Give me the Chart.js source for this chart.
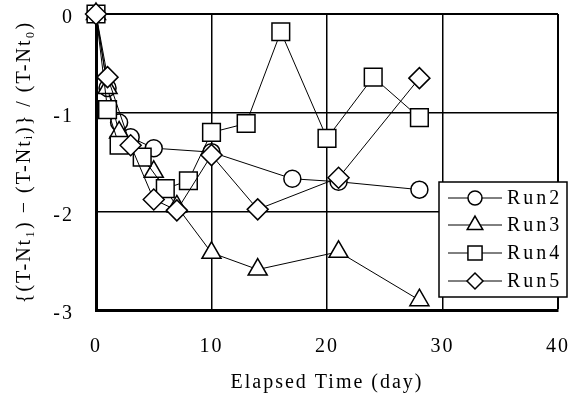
<!DOCTYPE html>
<html>
<head>
<meta charset="utf-8">
<script src="https://cdn.jsdelivr.net/npm/chart.js@4.4.0/dist/chart.umd.min.js"></script>
<style>
html, body { margin: 0; padding: 0; background: #fff; }
</style>
</head>
<body>
<canvas id="grafik" width="568" height="398"></canvas>
<script>
// data (day, ratio)
var hariRun2 = [0, 1, 2, 3, 5, 10, 17, 21, 28];
var nilaiRun2 = [0, -0.75, -1.1, -1.25, -1.36, -1.4, -1.67, -1.7, -1.78];

var hariRun3 = [0, 1, 2, 3, 5, 7, 10, 14, 21, 28];
var nilaiRun3 = [0, -0.75, -1.2, -1.35, -1.6, -1.95, -2.42, -2.59, -2.41, -2.9];

var hariRun4 = [0, 1, 2, 4, 6, 8, 10, 13, 16, 20, 24, 28];
var nilaiRun4 = [0, -0.97, -1.33, -1.45, -1.77, -1.69, -1.2, -1.11, -0.18, -1.26, -0.64, -1.05];

var hariRun5 = [0, 1, 3, 5, 7, 10, 14, 21, 28];
var nilaiRun5 = [0, -0.64, -1.33, -1.88, -1.99, -1.43, -1.98, -1.66, -0.65];

var labelRun = ['Run2', 'Run3', 'Run4', 'Run5'];
var tickX = [0, 10, 20, 30, 40];
var tickY = [0, -1, -2, -3];

var hurufSerif = "'Liberation Serif', 'DejaVu Serif', serif";

function pasangan(xs, ys) {
	var hasil = [];
	for (var i = 0; i < xs.length; i++) {
		hasil.push({x: xs[i], y: ys[i]});
	}
	return hasil;
}

function seri(label, xs, ys, bentuk, radius, urutan) {
	return {
		label: label,
		data: pasangan(xs, ys),
		showLine: true,
		clip: false,
		borderColor: '#000',
		borderWidth: 1,
		backgroundColor: '#fff',
		pointStyle: bentuk,
		pointRadius: radius,
		pointBorderWidth: 1.5,
		pointBorderColor: '#000',
		pointBackgroundColor: '#fff',
		order: urutan
	};
}

// no extra padding from the scales, layout.padding decides the box
function tanpaPadding(skala) {
	skala.paddingTop = 0;
	skala.paddingBottom = 0;
	skala.paddingLeft = 0;
	skala.paddingRight = 0;
}

// legend drawn by hand, it sits half outside the plot box
var legendaKotak = {
	id: 'legendaKotak',
	afterDraw: function(chart) {
		var ctx = chart.ctx;
		var kiri = 439, atas = 182, lebar = 128, tinggi = 115;
		ctx.save();
		ctx.fillStyle = '#fff';
		ctx.fillRect(kiri, atas, lebar, tinggi);
		ctx.strokeStyle = '#000';
		ctx.lineWidth = 1.5;
		ctx.strokeRect(kiri, atas, lebar, tinggi);
		var barisY = [198, 225, 253, 281];
		var ukuran = [7, 9, 10, 8];
		chart.data.datasets.forEach(function(ds, i) {
			var y = barisY[i];
			ctx.strokeStyle = '#000';
			ctx.lineWidth = 1;
			ctx.beginPath();
			ctx.moveTo(448, y);
			ctx.lineTo(502, y);
			ctx.stroke();
			ctx.fillStyle = '#fff';
			ctx.lineWidth = 1.5;
			Chart.helpers.drawPoint(ctx, {pointStyle: ds.pointStyle, radius: ukuran[i], rotation: 0, borderWidth: 1.5}, 475, y);
			ctx.fillStyle = '#000';
			ctx.font = '20px ' + hurufSerif;
			ctx.textBaseline = 'middle';
			ctx.textAlign = 'left';
			ctx.letterSpacing = '3px';
			ctx.fillText(ds.label, 507, y + 1);
		});
		ctx.restore();
	}
};

var spasiHuruf = {
	id: 'spasiHuruf',
	beforeDraw: function(chart) {
		chart.ctx.letterSpacing = '2px';
	}
};

var konteks = document.getElementById('grafik');
var grafikRun = new Chart(konteks, {
	type: 'scatter',
	data: {
		datasets: [
			seri(labelRun[0], hariRun2, nilaiRun2, 'circle', 8.5, 4),
			seri(labelRun[1], hariRun3, nilaiRun3, 'triangle', 11, 3),
			seri(labelRun[2], hariRun4, nilaiRun4, 'rect', 12.5, 2),
			seri(labelRun[3], hariRun5, nilaiRun5, 'rectRot', 10.5, 1)
		]
	},
	options: {
		responsive: false,
		animation: false,
		devicePixelRatio: 1,
		layout: {
			autoPadding: false,
			padding: {top: 14, right: 10, left: 0, bottom: 0}
		},
		plugins: {
			legend: {display: false},
			tooltip: {enabled: false}
		},
		scales: {
			x: {
				type: 'linear',
				min: 0,
				max: 40,
				afterBuildTicks: function(skala) {
					skala.ticks = tickX.map(function(v) { return {value: v}; });
				},
				afterFit: function(skala) {
					skala.height = 88;
					tanpaPadding(skala);
				},
				ticks: {
					color: '#000',
					padding: 25,
					maxRotation: 0,
					font: {family: hurufSerif, size: 20}
				},
				grid: {
					color: '#000',
					lineWidth: function(c) { return c.tick && c.tick.value === 40 ? 2 : 1.5; },
					drawTicks: false
				},
				border: {display: true, color: '#000', width: 3},
				title: {
					display: true,
					text: 'Elapsed Time (day)',
					color: '#000',
					font: {family: hurufSerif, size: 20},
					padding: {top: 0, bottom: 3}
				}
			},
			y: {
				type: 'linear',
				min: -3,
				max: 0,
				afterBuildTicks: function(skala) {
					skala.ticks = tickY.map(function(v) { return {value: v}; });
				},
				afterFit: function(skala) {
					skala.width = 96;
					tanpaPadding(skala);
				},
				ticks: {
					color: '#000',
					padding: 22,
					labelOffset: 4,
					font: {family: hurufSerif, size: 20}
				},
				grid: {
					color: '#000',
					lineWidth: function(c) { return c.tick && c.tick.value === 0 ? 2 : 1.5; },
					drawTicks: false
				},
				border: {display: true, color: '#000', width: 3},
				title: {
					display: true,
					text: '{(T-Nt\u2081) \u2212 (T-Nt\u1D62)} / (T-Nt\u2080)',
					color: '#000',
					font: {family: hurufSerif, size: 20},
					padding: {top: 13, bottom: 0}
				}
			}
		}
	},
	plugins: [spasiHuruf, legendaKotak]
});
</script>
</body>
</html>
